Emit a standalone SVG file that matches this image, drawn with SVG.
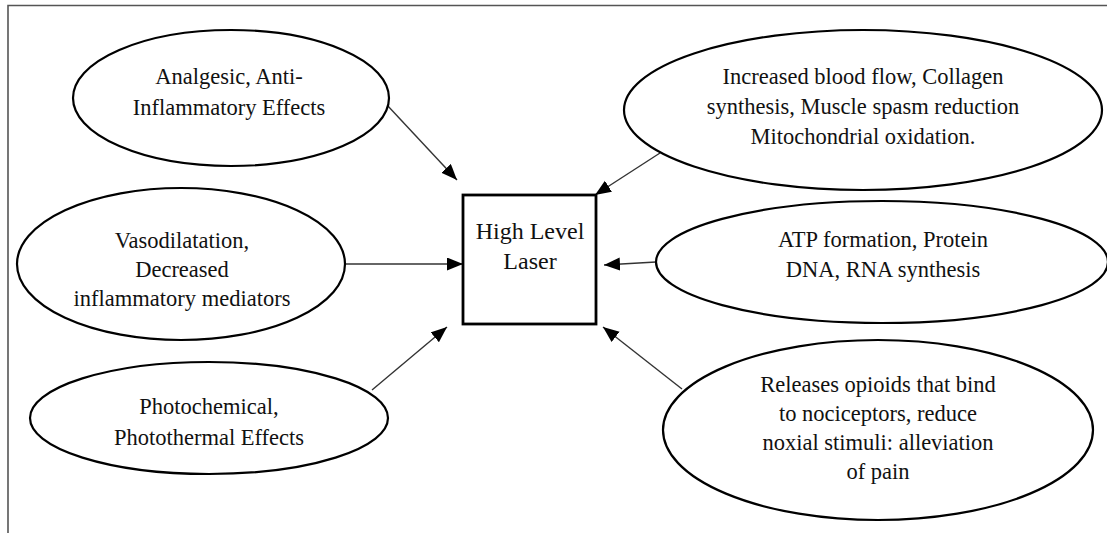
<svg xmlns="http://www.w3.org/2000/svg" width="1107" height="533" viewBox="0 0 1107 533">
<style>
.el{fill:#fff;stroke:#000;stroke-width:2.2}
.box{fill:#fff;stroke:#000;stroke-width:2.8}
.t{font-size:22.5px;fill:#111;text-anchor:middle}
.c{stroke:#333;stroke-width:1.4;fill:none;marker-end:url(#ah)}
.frame{stroke:#555;stroke-width:1.6;fill:none}
</style>
<defs>
<marker id="ah" markerUnits="userSpaceOnUse" markerWidth="17" markerHeight="14" refX="16" refY="6.5" orient="auto">
<path d="M0,0 L16,6.5 L0,13 z" fill="#000"/>
</marker>
</defs>
<rect width="1107" height="533" fill="#fff"/>
<path class="frame" d="M8,533 L8,5.5 L1107,5.5"/>
<g id="connectors">
<line class="c" x1="387" y1="105" x2="457" y2="180"/>
<line class="c" x1="346" y1="264" x2="463" y2="264"/>
<line class="c" x1="372" y1="390" x2="447" y2="327"/>
<line class="c" x1="660" y1="153" x2="595" y2="195"/>
<line class="c" x1="656" y1="262" x2="604" y2="265"/>
<line class="c" x1="682" y1="389" x2="603" y2="327"/>
</g>
<g font-family="Liberation Serif, DejaVu Serif, serif">
<g id="n-laser">
<rect class="box" x="463" y="195" width="133" height="129"/>
<text class="t" x="530" y="239" style="font-size:24px">High Level</text>
<text class="t" x="530" y="269" style="font-size:24px">Laser</text>
</g>
<g id="n-analgesic">
<ellipse class="el" cx="231" cy="98" rx="158" ry="68"/>
<text class="t" x="229" y="84">Analgesic, Anti-</text>
<text class="t" x="229" y="115">Inflammatory Effects</text>
</g>
<g id="n-vaso">
<ellipse class="el" cx="181" cy="264" rx="164" ry="76"/>
<text class="t" x="182" y="248">Vasodilatation,</text>
<text class="t" x="182" y="277">Decreased</text>
<text class="t" x="182" y="306">inflammatory mediators</text>
</g>
<g id="n-photo">
<ellipse class="el" cx="209" cy="418" rx="179" ry="56"/>
<text class="t" x="209" y="414">Photochemical,</text>
<text class="t" x="209" y="445">Photothermal Effects</text>
</g>
<g id="n-blood">
<ellipse class="el" cx="863" cy="110" rx="239" ry="80"/>
<text class="t" x="863" y="84">Increased blood flow, Collagen</text>
<text class="t" x="863" y="114">synthesis, Muscle spasm reduction</text>
<text class="t" x="863" y="144">Mitochondrial oxidation.</text>
</g>
<g id="n-atp">
<ellipse class="el" cx="882" cy="262" rx="226" ry="61"/>
<text class="t" x="883" y="247">ATP formation, Protein</text>
<text class="t" x="883" y="277">DNA, RNA synthesis</text>
</g>
<g id="n-opioid">
<ellipse class="el" cx="878" cy="430" rx="215" ry="90"/>
<text class="t" x="878" y="392">Releases opioids that bind</text>
<text class="t" x="878" y="421">to nociceptors, reduce</text>
<text class="t" x="878" y="450">noxial stimuli: alleviation</text>
<text class="t" x="878" y="479">of pain</text>
</g>
</g>
</svg>
